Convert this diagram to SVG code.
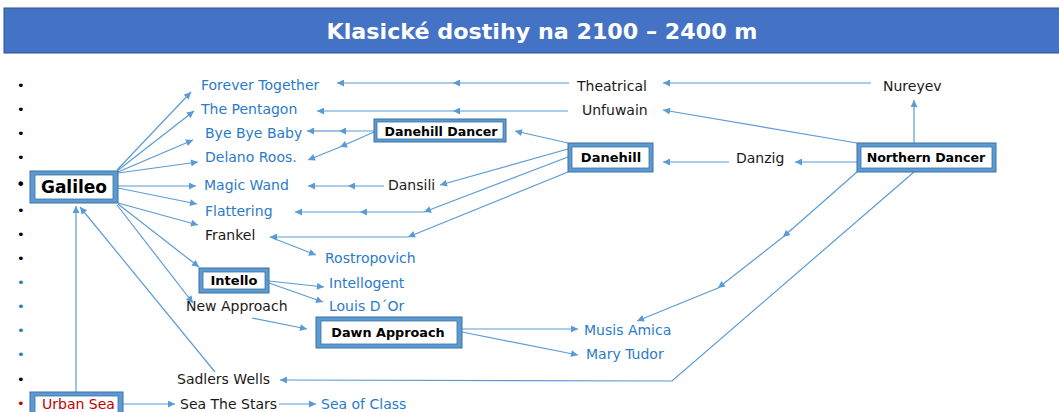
<svg xmlns="http://www.w3.org/2000/svg" width="1059" height="412" viewBox="0 0 1059 412">
<style>
.t{font-family:"DejaVu Sans","Liberation Sans",sans-serif;font-size:14px;fill:#1a1a1a}
.b{fill:#2B7BC8}
.r{fill:#C00000}
.nb{font-family:"DejaVu Sans","Liberation Sans",sans-serif;font-weight:bold;fill:#000;text-anchor:middle}
.ob{fill:#5B9BD5;stroke:#41719C;stroke-width:1}
.ib{fill:#fff;stroke:#41719C;stroke-width:0.8}
.bl{font-family:"DejaVu Sans",sans-serif;font-size:13px}
#conn line,#conn polyline{stroke:#5B9BD5;stroke-width:1.2;fill:none;marker-end:url(#a)}
</style>
<defs>
<marker id="a" viewBox="0 0 10 10" refX="10" refY="5" markerWidth="9" markerHeight="7" orient="auto" markerUnits="userSpaceOnUse">
<path d="M0,0 L10,5 L0,10 z" fill="#5B9BD5"/>
</marker>
</defs>
<rect width="1059" height="412" fill="#fff"/>
<g id="title">
<rect x="4" y="8" width="1060" height="45" fill="#4472C4" stroke="#2F528F" stroke-width="1"/>
<text x="542" y="39" font-family="DejaVu Sans,Liberation Sans,sans-serif" font-weight="bold" font-size="22" fill="#fff" text-anchor="middle" textLength="431" lengthAdjust="spacingAndGlyphs">Klasické dostihy na 2100 – 2400 m</text>
</g>
<g id="bullets" class="bl">
<text x="17" y="90" fill="#000">•</text>
<text x="17" y="114" fill="#000">•</text>
<text x="17" y="138" fill="#000">•</text>
<text x="17" y="162" fill="#000">•</text>
<text x="16" y="190" fill="#000" font-size="16">•</text>
<text x="17" y="215" fill="#000">•</text>
<text x="17" y="239" fill="#000">•</text>
<text x="17" y="263" fill="#000">•</text>
<text x="17" y="287" fill="#2B7BC8">•</text>
<text x="17" y="311" fill="#2B7BC8">•</text>
<text x="17" y="335" fill="#2B7BC8">•</text>
<text x="17" y="359" fill="#2B7BC8">•</text>
<text x="17" y="384" fill="#000">•</text>
<text x="17" y="408" fill="#C00000">•</text>
</g>
<g id="conn">
<line x1="117" y1="170" x2="191" y2="92"/>
<line x1="117" y1="171" x2="194" y2="111"/>
<line x1="118" y1="172" x2="193" y2="140"/>
<line x1="118" y1="173" x2="198" y2="162"/>
<line x1="118" y1="186" x2="196" y2="186"/>
<line x1="118" y1="188" x2="197" y2="204"/>
<line x1="118" y1="203" x2="198" y2="225"/>
<line x1="118" y1="204" x2="199" y2="267"/>
<line x1="117" y1="205" x2="193" y2="303"/>
<line x1="215" y1="372" x2="80" y2="207"/>
<line x1="76" y1="392" x2="76" y2="206"/>
<line x1="123" y1="404" x2="175" y2="404"/>
<line x1="279" y1="404" x2="316" y2="404"/>
<line x1="569" y1="83" x2="453" y2="83"/>
<line x1="453" y1="83" x2="337" y2="83"/>
<line x1="871" y1="83" x2="663" y2="83"/>
<line x1="914" y1="143" x2="914" y2="100"/>
<line x1="857" y1="143" x2="663" y2="110"/>
<line x1="568" y1="111" x2="453" y2="111"/>
<line x1="453" y1="111" x2="317" y2="111"/>
<line x1="374" y1="131" x2="339" y2="131"/>
<line x1="339" y1="131" x2="307" y2="131"/>
<line x1="374" y1="132" x2="340" y2="147"/>
<line x1="340" y1="147" x2="308" y2="160"/>
<line x1="568" y1="143" x2="515" y2="131"/>
<line x1="568" y1="149" x2="440" y2="185"/>
<line x1="384" y1="186" x2="348" y2="186"/>
<line x1="348" y1="186" x2="308" y2="186"/>
<line x1="568" y1="157" x2="424" y2="212"/>
<line x1="424" y1="212" x2="360" y2="212"/>
<line x1="360" y1="212" x2="295" y2="212"/>
<line x1="568" y1="172" x2="408" y2="237"/>
<line x1="408" y1="237" x2="270" y2="237" stroke-width="1.8"/>
<line x1="270" y1="237" x2="316" y2="255"/>
<line x1="857" y1="162" x2="795" y2="162"/>
<line x1="729" y1="162" x2="663" y2="162"/>
<line x1="269" y1="281" x2="324" y2="287"/>
<line x1="269" y1="283" x2="323" y2="302"/>
<line x1="252" y1="318" x2="307" y2="329"/>
<line x1="462" y1="329" x2="578" y2="329"/>
<line x1="462" y1="332" x2="578" y2="355"/>
<line x1="857" y1="172" x2="783" y2="237"/>
<line x1="783" y1="237" x2="718" y2="288"/>
<line x1="718" y1="288" x2="637" y2="321"/>
<polyline points="914,172 672,381 280,380"/>
</g>
<g id="galileo">
<rect class="ob" x="30" y="171" width="88" height="32"/>
<rect class="ib" x="35" y="175" width="78" height="24"/>
<text class="nb" x="74" y="193" font-size="17">Galileo</text>
</g>
<g id="danehill-dancer">
<rect class="ob" x="374" y="119" width="132" height="23"/>
<rect class="ib" x="377" y="122" width="126" height="17"/>
<text class="nb" x="441" y="135.5" font-size="12.6">Danehill Dancer</text>
</g>
<g id="danehill">
<rect class="ob" x="568" y="143" width="85" height="29"/>
<rect class="ib" x="572" y="147" width="77" height="21"/>
<text class="nb" x="611" y="162" font-size="13">Danehill</text>
</g>
<g id="northern-dancer">
<rect class="ob" x="857" y="143" width="139" height="29"/>
<rect class="ib" x="861" y="147" width="131" height="21"/>
<text class="nb" x="926" y="162" font-size="12.6">Northern Dancer</text>
</g>
<g id="intello">
<rect class="ob" x="199" y="268" width="70" height="25"/>
<rect class="ib" x="203" y="272" width="62" height="17"/>
<text class="nb" x="234" y="285" font-size="13">Intello</text>
</g>
<g id="dawn-approach">
<rect class="ob" x="316" y="317" width="146" height="31"/>
<rect class="ib" x="321" y="321" width="136" height="23"/>
<text class="nb" x="388" y="337" font-size="12.8">Dawn Approach</text>
</g>
<g id="urban-sea">
<rect class="ob" x="30" y="392" width="93" height="24"/>
<rect class="ib" x="35" y="396" width="83" height="20"/>
<text class="t r" x="42" y="409">Urban Sea</text>
</g>
<g id="forever-together"><text class="t b" x="201" y="90">Forever Together</text></g>
<g id="the-pentagon"><text class="t b" x="201" y="114">The Pentagon</text></g>
<g id="bye-bye-baby"><text class="t b" x="205" y="138">Bye Bye Baby</text></g>
<g id="delano-roos"><text class="t b" x="205" y="162">Delano Roos.</text></g>
<g id="magic-wand"><text class="t b" x="204" y="190">Magic Wand</text></g>
<g id="flattering"><text class="t b" x="205" y="216">Flattering</text></g>
<g id="frankel"><text class="t" x="205" y="240">Frankel</text></g>
<g id="rostropovich"><text class="t b" x="325" y="263">Rostropovich</text></g>
<g id="intellogent"><text class="t b" x="329" y="288">Intellogent</text></g>
<g id="louis-dor"><text class="t b" x="329" y="311">Louis D´Or</text></g>
<g id="new-approach"><text class="t" x="186" y="311">New Approach</text></g>
<g id="musis-amica"><text class="t b" x="584" y="335">Musis Amica</text></g>
<g id="mary-tudor"><text class="t b" x="586" y="359">Mary Tudor</text></g>
<g id="sadlers-wells"><text class="t" x="177" y="384">Sadlers Wells</text></g>
<g id="sea-the-stars"><text class="t" x="180" y="409">Sea The Stars</text></g>
<g id="sea-of-class"><text class="t b" x="321" y="409">Sea of Class</text></g>
<g id="theatrical"><text class="t" x="577" y="91">Theatrical</text></g>
<g id="unfuwain"><text class="t" x="582" y="115">Unfuwain</text></g>
<g id="dansili"><text class="t" x="388" y="190">Dansili</text></g>
<g id="danzig"><text class="t" x="736" y="163">Danzig</text></g>
<g id="nureyev"><text class="t" x="883" y="91">Nureyev</text></g>
</svg>
